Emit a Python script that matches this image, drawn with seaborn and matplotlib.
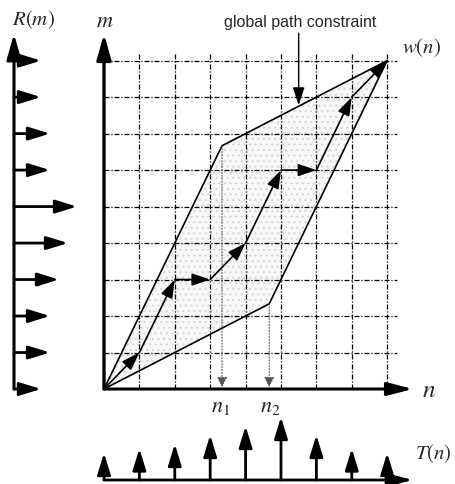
import matplotlib
matplotlib.use("Agg")
import matplotlib.pyplot as plt
import seaborn as sns
import pandas as pd

# warping grid: n = 0..8 (test), m = 0..9 (reference)
n_frames = list(range(9))
m_frames = list(range(10))

# frame weights shown along the two axes
R_m = [3, 4, 4, 5, 6, 7, 4, 4, 3, 3]
T_n = [3, 3.5, 4, 5, 6, 7, 5, 3.5, 3]

# warping path w(n)
path_n = [0, 1, 2, 3, 4, 5, 6, 7, 8]
path_m = [0, 1, 3, 3, 4, 6, 6, 8, 9]

# global path constraint (slopes 2 and 1/2)
constraint_n = [0, 10 / 3, 8, 14 / 3, 0]
constraint_m = [0, 20 / 3, 9, 7 / 3, 0]
n1, n2 = 10 / 3, 14 / 3

sns.set_style("white")
plt.rcParams["mathtext.fontset"] = "stix"
plt.rcParams["font.family"] = ["Liberation Sans", "DejaVu Sans"]
plt.rcParams["hatch.linewidth"] = 0.8

W, H = 455, 485
fig = plt.figure(figsize=(W / 100, H / 100), dpi=100)


def place(left, top, right, bottom):
    ax = fig.add_axes([left / W, 1 - bottom / H, (right - left) / W, (bottom - top) / H])
    ax.set_axis_off()
    return ax


def arrow(ax, start, end, lw=1.5, hl=0.6, hw=0.2, ms=20, color="black", ls="-"):
    ax.annotate("", xy=end, xytext=start, annotation_clip=False,
                arrowprops=dict(arrowstyle=f"-|>,head_length={hl},head_width={hw}",
                                lw=lw, color=color, linestyle=ls,
                                mutation_scale=ms, shrinkA=0, shrinkB=0))


# main warping plane
ax = place(104, 35, 413, 390)
n_max, m_max = 8.73, 9.73
ax.set_xlim(0, n_max)
ax.set_ylim(0, m_max)

grid_ls = (0, (4, 1.5, 1, 1.5))
ax.hlines(m_frames[1:], 0, 8.27, colors="black", lw=0.9, linestyles=[grid_ls], clip_on=False)
ax.vlines(n_frames[1:], 0, 9.23, colors="black", lw=0.9, linestyles=[grid_ls], clip_on=False)

# shaded allowed region (light stipple)
ax.fill(constraint_n, constraint_m, facecolor="#f8f8f8", edgecolor="#d6d6d6",
        hatch="...", lw=0, zorder=1)

df_c = pd.DataFrame({"n": constraint_n, "m": constraint_m})
sns.lineplot(data=df_c, x="n", y="m", sort=False, estimator=None,
             color="black", lw=1.2, ax=ax, zorder=3)
ax.set_axis_off()

# dotted projections to n1 / n2
for nx, my in [(n1, constraint_m[1]), (n2, constraint_m[3])]:
    arrow(ax, (nx, my), (nx, 0.05), lw=0.8, hl=0.5, hw=0.25, ms=12, color="#555555", ls=":")

# warping path with arrowheads
for i in range(len(path_n) - 1):
    arrow(ax, (path_n[i], path_m[i]), (path_n[i + 1], path_m[i + 1]),
          lw=1.2, hl=0.65, hw=0.22, ms=17)

# axes
arrow(ax, (0, 0), (0, m_max), lw=2.4, hl=0.7, hw=0.2, ms=22)
arrow(ax, (0, 0), (n_max, 0), lw=2.2, hl=0.7, hw=0.18, ms=22)

ax.text(0.03, 10.1, "$m$", fontsize=16, ha="center", va="center")
ax.text(9.18, 0.0, "$n$", fontsize=18, ha="center", va="center")
ax.text(8.98, 9.38, "$w(n)$", fontsize=15, ha="center", va="center")
ax.text(n1 - 0.05, -0.45, "$n_1$", fontsize=16, ha="center", va="center")
ax.text(n2 + 0.02, -0.45, "$n_2$", fontsize=16, ha="center", va="center")
ax.text(5.54, 10.08, "global path constraint", fontsize=11.5, ha="center", va="center")
arrow(ax, (5.5, 9.75), (5.5, 7.78), lw=1.0, hl=0.6, hw=0.2, ms=18)

# R(m) weights on the left
ax_r = place(14, 35, 90, 390)
ax_r.set_xlim(0, 76 / 9)
ax_r.set_ylim(0, m_max)
arrow(ax_r, (0, 0), (0, m_max), lw=2.2, hl=0.7, hw=0.2, ms=22)
for m, r in zip(m_frames, R_m):
    arrow(ax_r, (0, m), (r, m), lw=2.0, hl=0.65, hw=0.2, ms=20)
ax_r.text(2.2, 10.14, "$R(m)$", fontsize=15, ha="center", va="center")

# T(n) weights at the bottom
ax_t = place(104, 410, 413, 481)
ax_t.set_xlim(0, n_max)
ax_t.set_ylim(0, 71 / 9)
arrow(ax_t, (0, 0), (n_max, 0), lw=2.0, hl=0.7, hw=0.18, ms=22)
for n, t in zip(n_frames, T_n):
    arrow(ax_t, (n, 0), (n, t), lw=2.0, hl=0.65, hw=0.2, ms=20)
ax_t.text(9.32, 3.0, "$T(n)$", fontsize=15, ha="center", va="center")

fig.savefig("out.png", dpi=100)
